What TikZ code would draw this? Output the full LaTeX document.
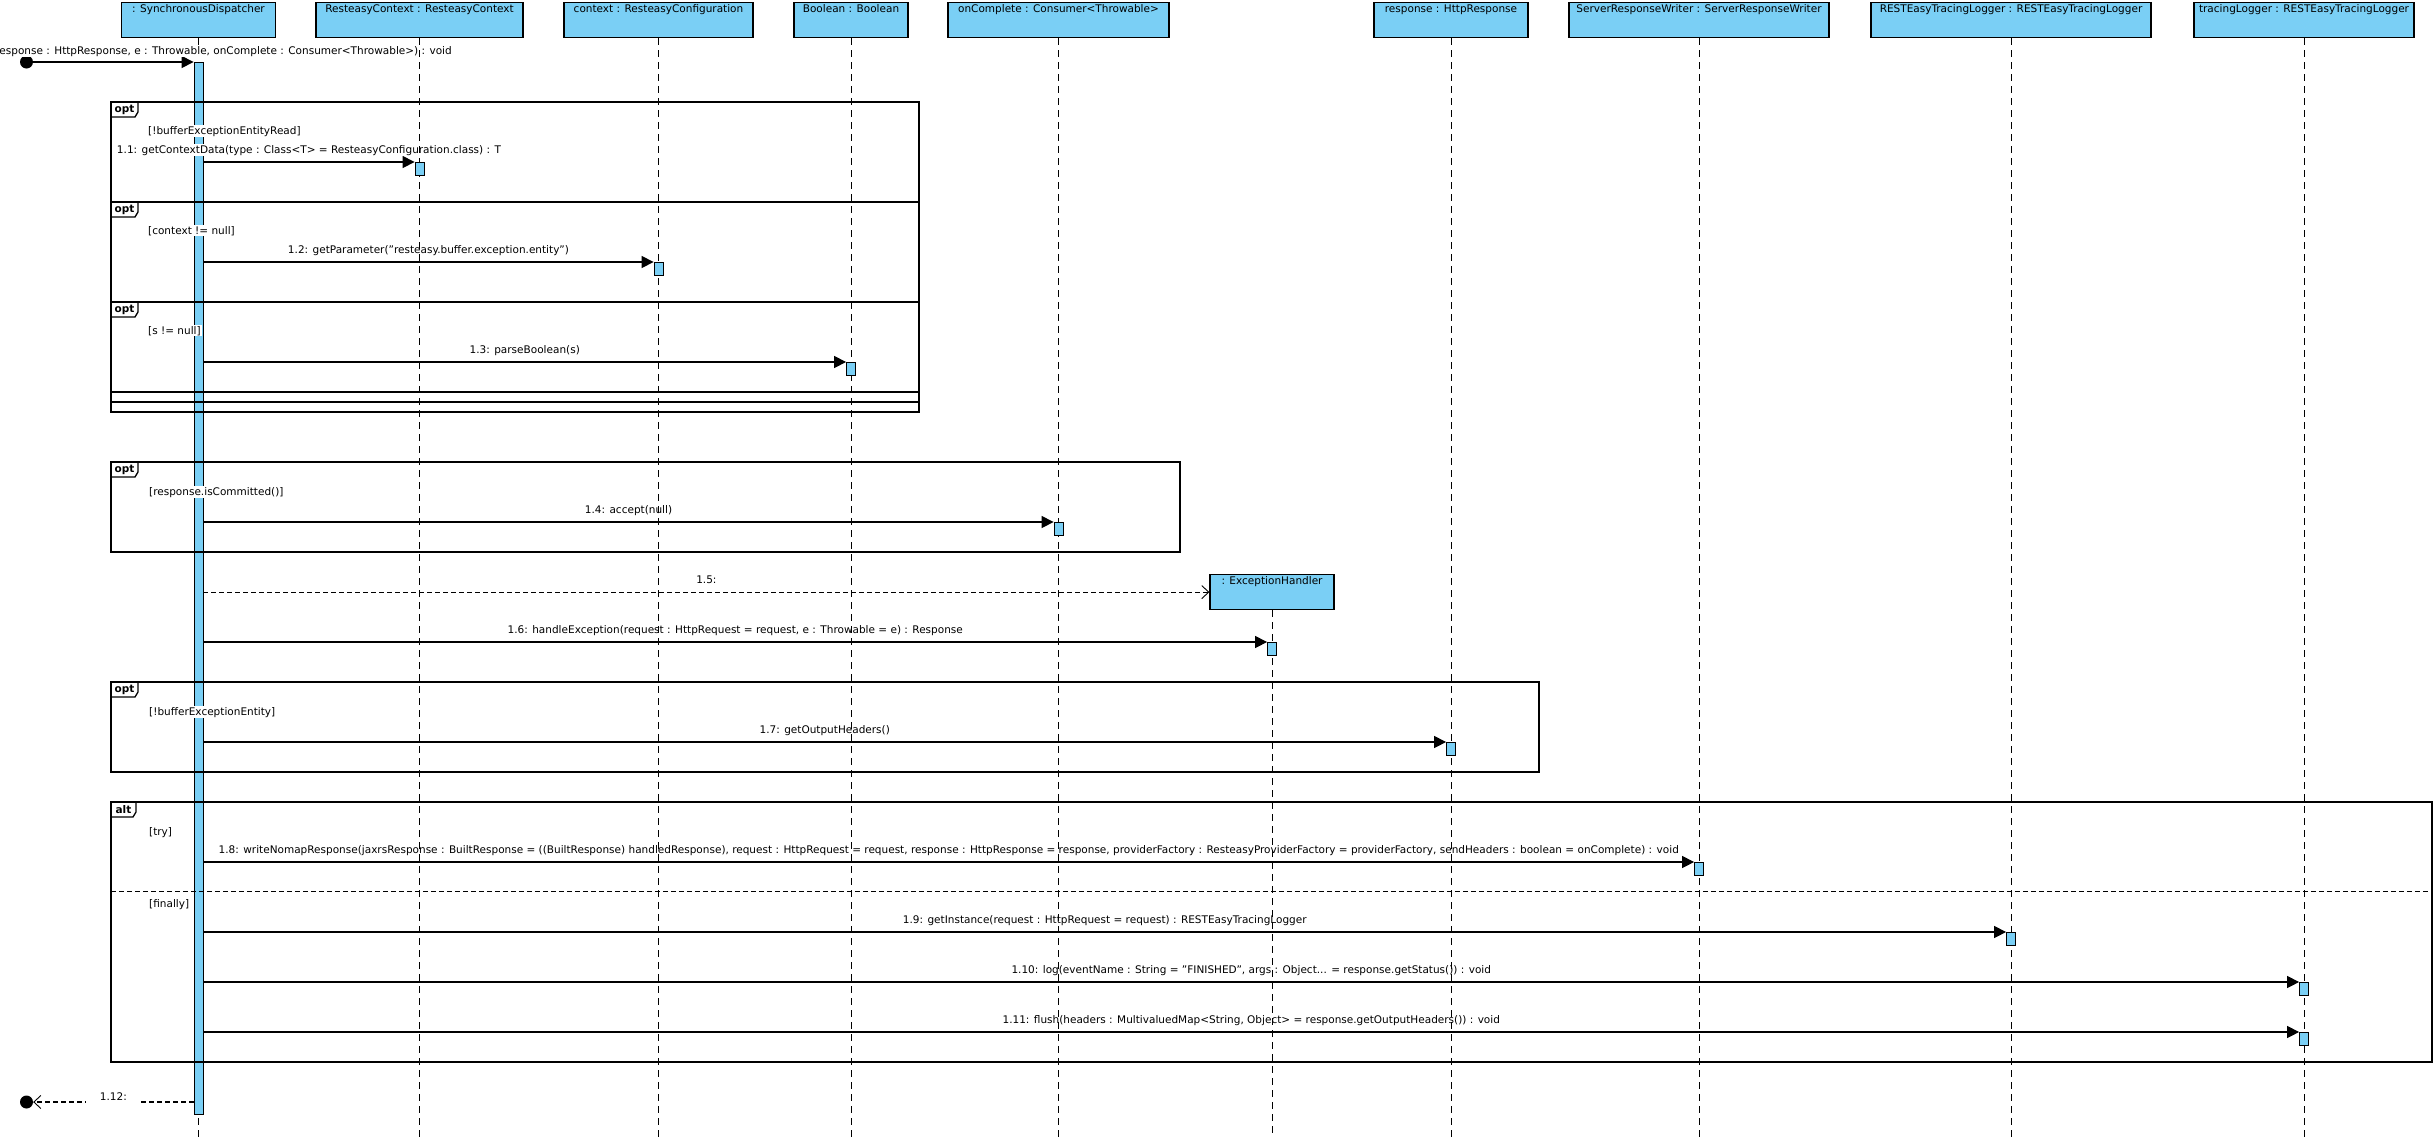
\documentclass[tikz,border=0pt]{standalone}
\usepackage{fontspec}
\setmainfont{DejaVu Sans}
\usetikzlibrary{arrows.meta}
\definecolor{vpblue}{RGB}{122,207,245}
\newcommand\lblfont{\fontsize{10.5}{12}\selectfont}
\newcommand\fragtab[5]{%
  \draw[frame] (#1,#2+15) -- (#1+#5-3,#2+15) -- (#1+#5,#2+10) -- (#1+#5,#2);
  \node[tabtxt] (#3) at (#1+#5/2,#2+8) {#4};}
\pgfdeclarelayer{back}\pgfdeclarelayer{labels}\pgfdeclarelayer{top}
\pgfsetlayers{back,labels,main,top}
\begin{document}
\begin{tikzpicture}[x=1pt,y=-1pt,
  every node/.style={font=\lblfont},
  hdr/.style={draw=black, line width=1.2pt, fill=vpblue, anchor=north, inner xsep=0pt, inner ysep=2pt, text height=8pt, text depth=23pt},
  bar/.style={draw=black, line width=0.8pt, fill=vpblue, minimum width=9pt, inner sep=0pt, anchor=north},
  act/.style={bar, minimum height=12.5pt},
  life/.style={line width=0.9pt, dash pattern=on 7pt off 5pt},
  msg/.style={line width=1.2pt, -{Triangle[length=12pt,width=12pt]}},
  ret/.style={line width=1.1pt, dash pattern=on 5pt off 3pt, -{Straight Barb[length=7pt,width=13pt,line width=0.9pt]}},
  frame/.style={line width=1.3pt},
  lbl/.style={fill=white, inner sep=1pt, anchor=base, yshift=9pt},
  guard/.style={fill=white, inner sep=1pt, anchor=base west},
  tabtxt/.style={font=\lblfont\bfseries, inner sep=0pt},
  dot/.style={circle, fill=black, inner sep=0pt, minimum size=13pt},
]
\begin{pgfonlayer}{back}
\fill[white] (0,0) rectangle (2436,1138);
\end{pgfonlayer}
\useasboundingbox (0,0) rectangle (2436,1138);

% lifeline heads
\node[hdr, minimum width=154pt] (sd) at (198.5,2) {: SynchronousDispatcher};
\node[hdr, minimum width=207pt] (rc) at (419.5,2) {ResteasyContext : ResteasyContext};
\node[hdr, minimum width=189pt] (ctx) at (658.5,2) {context : ResteasyConfiguration};
\node[hdr, minimum width=114pt] (bool) at (851,2) {Boolean : Boolean};
\node[hdr, minimum width=221pt] (onc) at (1058.5,2) {onComplete : Consumer<Throwable>};
\node[hdr, minimum width=154pt] (resp) at (1451,2) {response : HttpResponse};
\node[hdr, minimum width=260pt] (srw) at (1699,2) {ServerResponseWriter : ServerResponseWriter};
\node[hdr, minimum width=280pt] (rtl) at (2011,2) {RESTEasyTracingLogger : RESTEasyTracingLogger};
\node[hdr, minimum width=220pt] (tl) at (2304,2) {tracingLogger : RESTEasyTracingLogger};
\node[hdr, minimum width=124pt] (eh) at (1272,574) {: ExceptionHandler};

% lifelines
\foreach \n in {rc,ctx,bool,onc,resp,srw,rtl,tl,eh}{\draw[life] (\n.south) -- (\n.south |- 0,1138);}

\begin{pgfonlayer}{back}
\draw[life] (sd.south) -- (sd.south |- 0,1138);
\node[bar, minimum height=1052pt] (sdbar) at (198.5,62) {};
\end{pgfonlayer}

% combined fragments
\draw[frame] (111,102) rectangle (919,412);
\draw[frame] (111,202) rectangle (919,402);
\draw[frame] (111,302) rectangle (919,392);
\fragtab{111}{102}{t1}{opt}{27}
\fragtab{111}{202}{t2}{opt}{27}
\fragtab{111}{302}{t3}{opt}{27}
\draw[frame] (111,462) rectangle (1180,552);
\fragtab{111}{462}{t4}{opt}{27}
\draw[frame] (111,682) rectangle (1539,772);
\fragtab{111}{682}{t5}{opt}{27}
\draw[frame] (111,802) rectangle (2432,1062);
\fragtab{111}{802}{t6}{alt}{25}
\draw[line width=1pt, dash pattern=on 5pt off 3pt] (111,891) -- (2432,891);

% activations
\begin{pgfonlayer}{top}
\node[act] (a11) at (rc.south |- 0,162) {};
\node[act] (a12) at (ctx.south |- 0,262) {};
\node[act] (a13) at (bool.south |- 0,362) {};
\node[act] (a14) at (onc.south |- 0,522) {};
\node[act] (a16) at (eh.south |- 0,642) {};
\node[act] (a17) at (resp.south |- 0,742) {};
\node[act] (a18) at (srw.south |- 0,862) {};
\node[act] (a19) at (rtl.south |- 0,932) {};
\node[act] (a110) at (tl.south |- 0,982) {};
\node[act] (a111) at (tl.south |- 0,1032) {};
\end{pgfonlayer}

\begin{pgfonlayer}{labels}
\node[dot] (start) at (26.5,62) {};
\draw[msg] (start.east) -- (sdbar.north west);
\node[fill=white, inner sep=1pt, anchor=base east] (l0) at (453,54) {esponse : HttpResponse, e : Throwable, onComplete : Consumer<Throwable>) : void};

\node[guard] (g1) at (147,134) {[!bufferExceptionEntityRead]};
\node[guard] (g2) at (147,234) {[context != null]};
\node[guard] (g3) at (147,334) {[s != null]};
\node[guard] (g4) at (148,495) {[response.isCommitted()]};
\node[guard] (g5) at (148,715) {[!bufferExceptionEntity]};
\node[guard] (g6) at (148,835) {[try]};
\node[guard] (g7) at (148,907) {[finally]};

\draw[msg] (sdbar.east |- a11.north) -- node[lbl]{1.1: getContextData(type : Class<T> = ResteasyConfiguration.class) : T} (a11.north west);
\draw[msg] (sdbar.east |- a12.north) -- node[lbl]{1.2: getParameter("resteasy.buffer.exception.entity")} (a12.north west);
\draw[msg] (sdbar.east |- a13.north) -- node[lbl]{1.3: parseBoolean(s)} (a13.north west);
\draw[msg] (sdbar.east |- a14.north) -- node[lbl]{1.4: accept(null)} (a14.north west);
\draw[ret] (sdbar.east |- eh.west) -- node[lbl]{1.5:} (eh.west);
\draw[msg] (sdbar.east |- a16.north) -- node[lbl]{1.6: handleException(request : HttpRequest = request, e : Throwable = e) : Response} (a16.north west);
\draw[msg] (sdbar.east |- a17.north) -- node[lbl]{1.7: getOutputHeaders()} (a17.north west);
\draw[msg] (sdbar.east |- a18.north) -- node[lbl]{1.8: writeNomapResponse(jaxrsResponse : BuiltResponse = ((BuiltResponse) handledResponse), request : HttpRequest = request, response : HttpResponse = response, providerFactory : ResteasyProviderFactory = providerFactory, sendHeaders : boolean = onComplete) : void} (a18.north west);
\draw[msg] (sdbar.east |- a19.north) -- node[lbl]{1.9: getInstance(request : HttpRequest = request) : RESTEasyTracingLogger} (a19.north west);
\draw[msg] (sdbar.east |- a110.north) -- node[lbl]{1.10: log(eventName : String = "FINISHED", args : Object... = response.getStatus()) : void} (a110.north west);
\draw[msg] (sdbar.east |- a111.north) -- node[lbl]{1.11: flush(headers : MultivaluedMap<String, Object> = response.getOutputHeaders()) : void} (a111.north west);

\node[dot] (fin) at (26.5,1102) {};
\draw[ret] (sdbar.west |- fin) -- node[fill=white, inner xsep=14pt, inner ysep=3pt, yshift=5pt]{1.12:} (fin.east);
\end{pgfonlayer}
\end{tikzpicture}
\end{document}
